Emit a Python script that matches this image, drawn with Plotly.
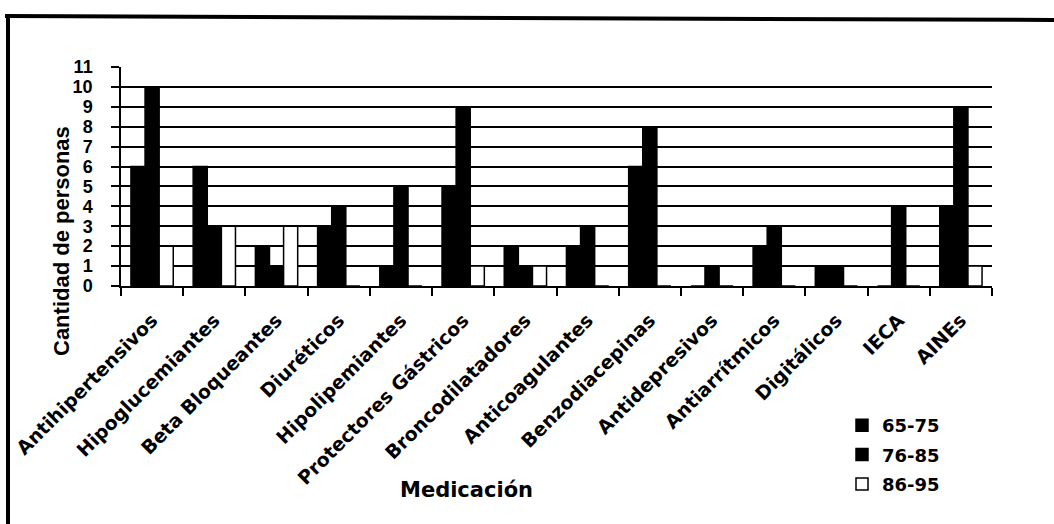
import plotly.graph_objects as go

# Medicación por grupo de edad
categories = [
    "Antihipertensivos", "Hipoglucemiantes", "Beta Bloqueantes", "Diuréticos",
    "Hipolipemiantes", "Protectores Gástricos", "Broncodilatadores",
    "Anticoagulantes", "Benzodiacepinas", "Antidepresivos", "Antiarrítmicos",
    "Digitálicos", "IECA", "AINEs",
]
edad_65_75 = [6, 6, 2, 3, 1, 5, 2, 2, 6, 0, 2, 1, 0, 4]
edad_76_85 = [10, 3, 1, 4, 5, 9, 1, 3, 8, 1, 3, 1, 4, 9]
edad_86_95 = [2, 3, 3, 0, 0, 1, 1, 0, 0, 0, 0, 0, 0, 1]
series_names = ["65-75", "76-85", "86-95"]
y_ticks = list(range(0, 12))

W, H = 1054, 524
L, R, T, B = 121, 992, 67, 286  # plot area edges in pixels

bold = dict(weight="bold", color="black")


def px_x(v):
    return (v - L) / (R - L)


def px_y(v):
    return (B - v) / (B - T)


fig = go.Figure()
fills = ["black", "black", "white"]
for name, vals, fill in zip(series_names, [edad_65_75, edad_76_85, edad_86_95], fills):
    fig.add_trace(go.Bar(
        x=categories, y=vals, name=name, legendgroup=name,
        marker=dict(color=fill, line=dict(color="black", width=1.5)),
    ))

fig.update_layout(
    width=W, height=H,
    margin=dict(l=L, r=W - R, t=T, b=H - B, pad=0),
    paper_bgcolor="white", plot_bgcolor="white",
    barmode="group", bargap=0.32, bargroupgap=0,
    showlegend=True,
    legend=dict(
        x=px_x(842), y=px_y(407),
        xanchor="left", yanchor="top",
        font=dict(family="DejaVu Sans", size=18, **bold),
        bgcolor="rgba(0,0,0,0)", itemwidth=30, tracegroupgap=3,
        traceorder="grouped",
    ),
    xaxis=dict(
        type="category", range=[-0.5, len(categories) - 0.5],
        tickson="boundaries", ticks="outside", ticklen=8, tickwidth=1.5,
        tickcolor="black", tickangle=-45, ticklabelstandoff=14,
        tickfont=dict(family="DejaVu Sans", size=19, **bold),
        showline=True, linecolor="black", linewidth=1.5,
        showgrid=False, zeroline=False,
    ),
    yaxis=dict(
        range=[0, 11], tickmode="array", tickvals=y_ticks,
        ticktext=[str(v) for v in y_ticks],
        ticks="outside", ticklen=8, tickwidth=1.5, tickcolor="black",
        ticklabelstandoff=15,
        tickfont=dict(family="Liberation Sans", size=18, **bold),
        showline=True, linecolor="black", linewidth=1.5,
        showgrid=True, gridcolor="black", gridwidth=1.5, zeroline=False,
    ),
)

# Axis titles
fig.add_annotation(
    text="Cantidad de personas", textangle=-90, showarrow=False,
    xref="paper", yref="paper", x=px_x(61), y=px_y(241),
    xanchor="center", yanchor="middle",
    font=dict(family="Liberation Sans", size=22, **bold),
)
fig.add_annotation(
    text="Medicación", showarrow=False, xref="paper", yref="paper",
    x=px_x(466), y=px_y(490), xanchor="center", yanchor="middle",
    font=dict(family="DejaVu Sans", size=21, **bold),
)

# Page frame (left and top edges)
fig.add_shape(type="line", xref="paper", yref="paper",
              x0=px_x(5), y0=px_y(16), x1=px_x(1054), y1=px_y(20),
              line=dict(color="black", width=4))
fig.add_shape(type="line", xref="paper", yref="paper",
              x0=px_x(8), y0=px_y(14), x1=px_x(8), y1=px_y(524),
              line=dict(color="black", width=4))

fig.write_html("out.html")
